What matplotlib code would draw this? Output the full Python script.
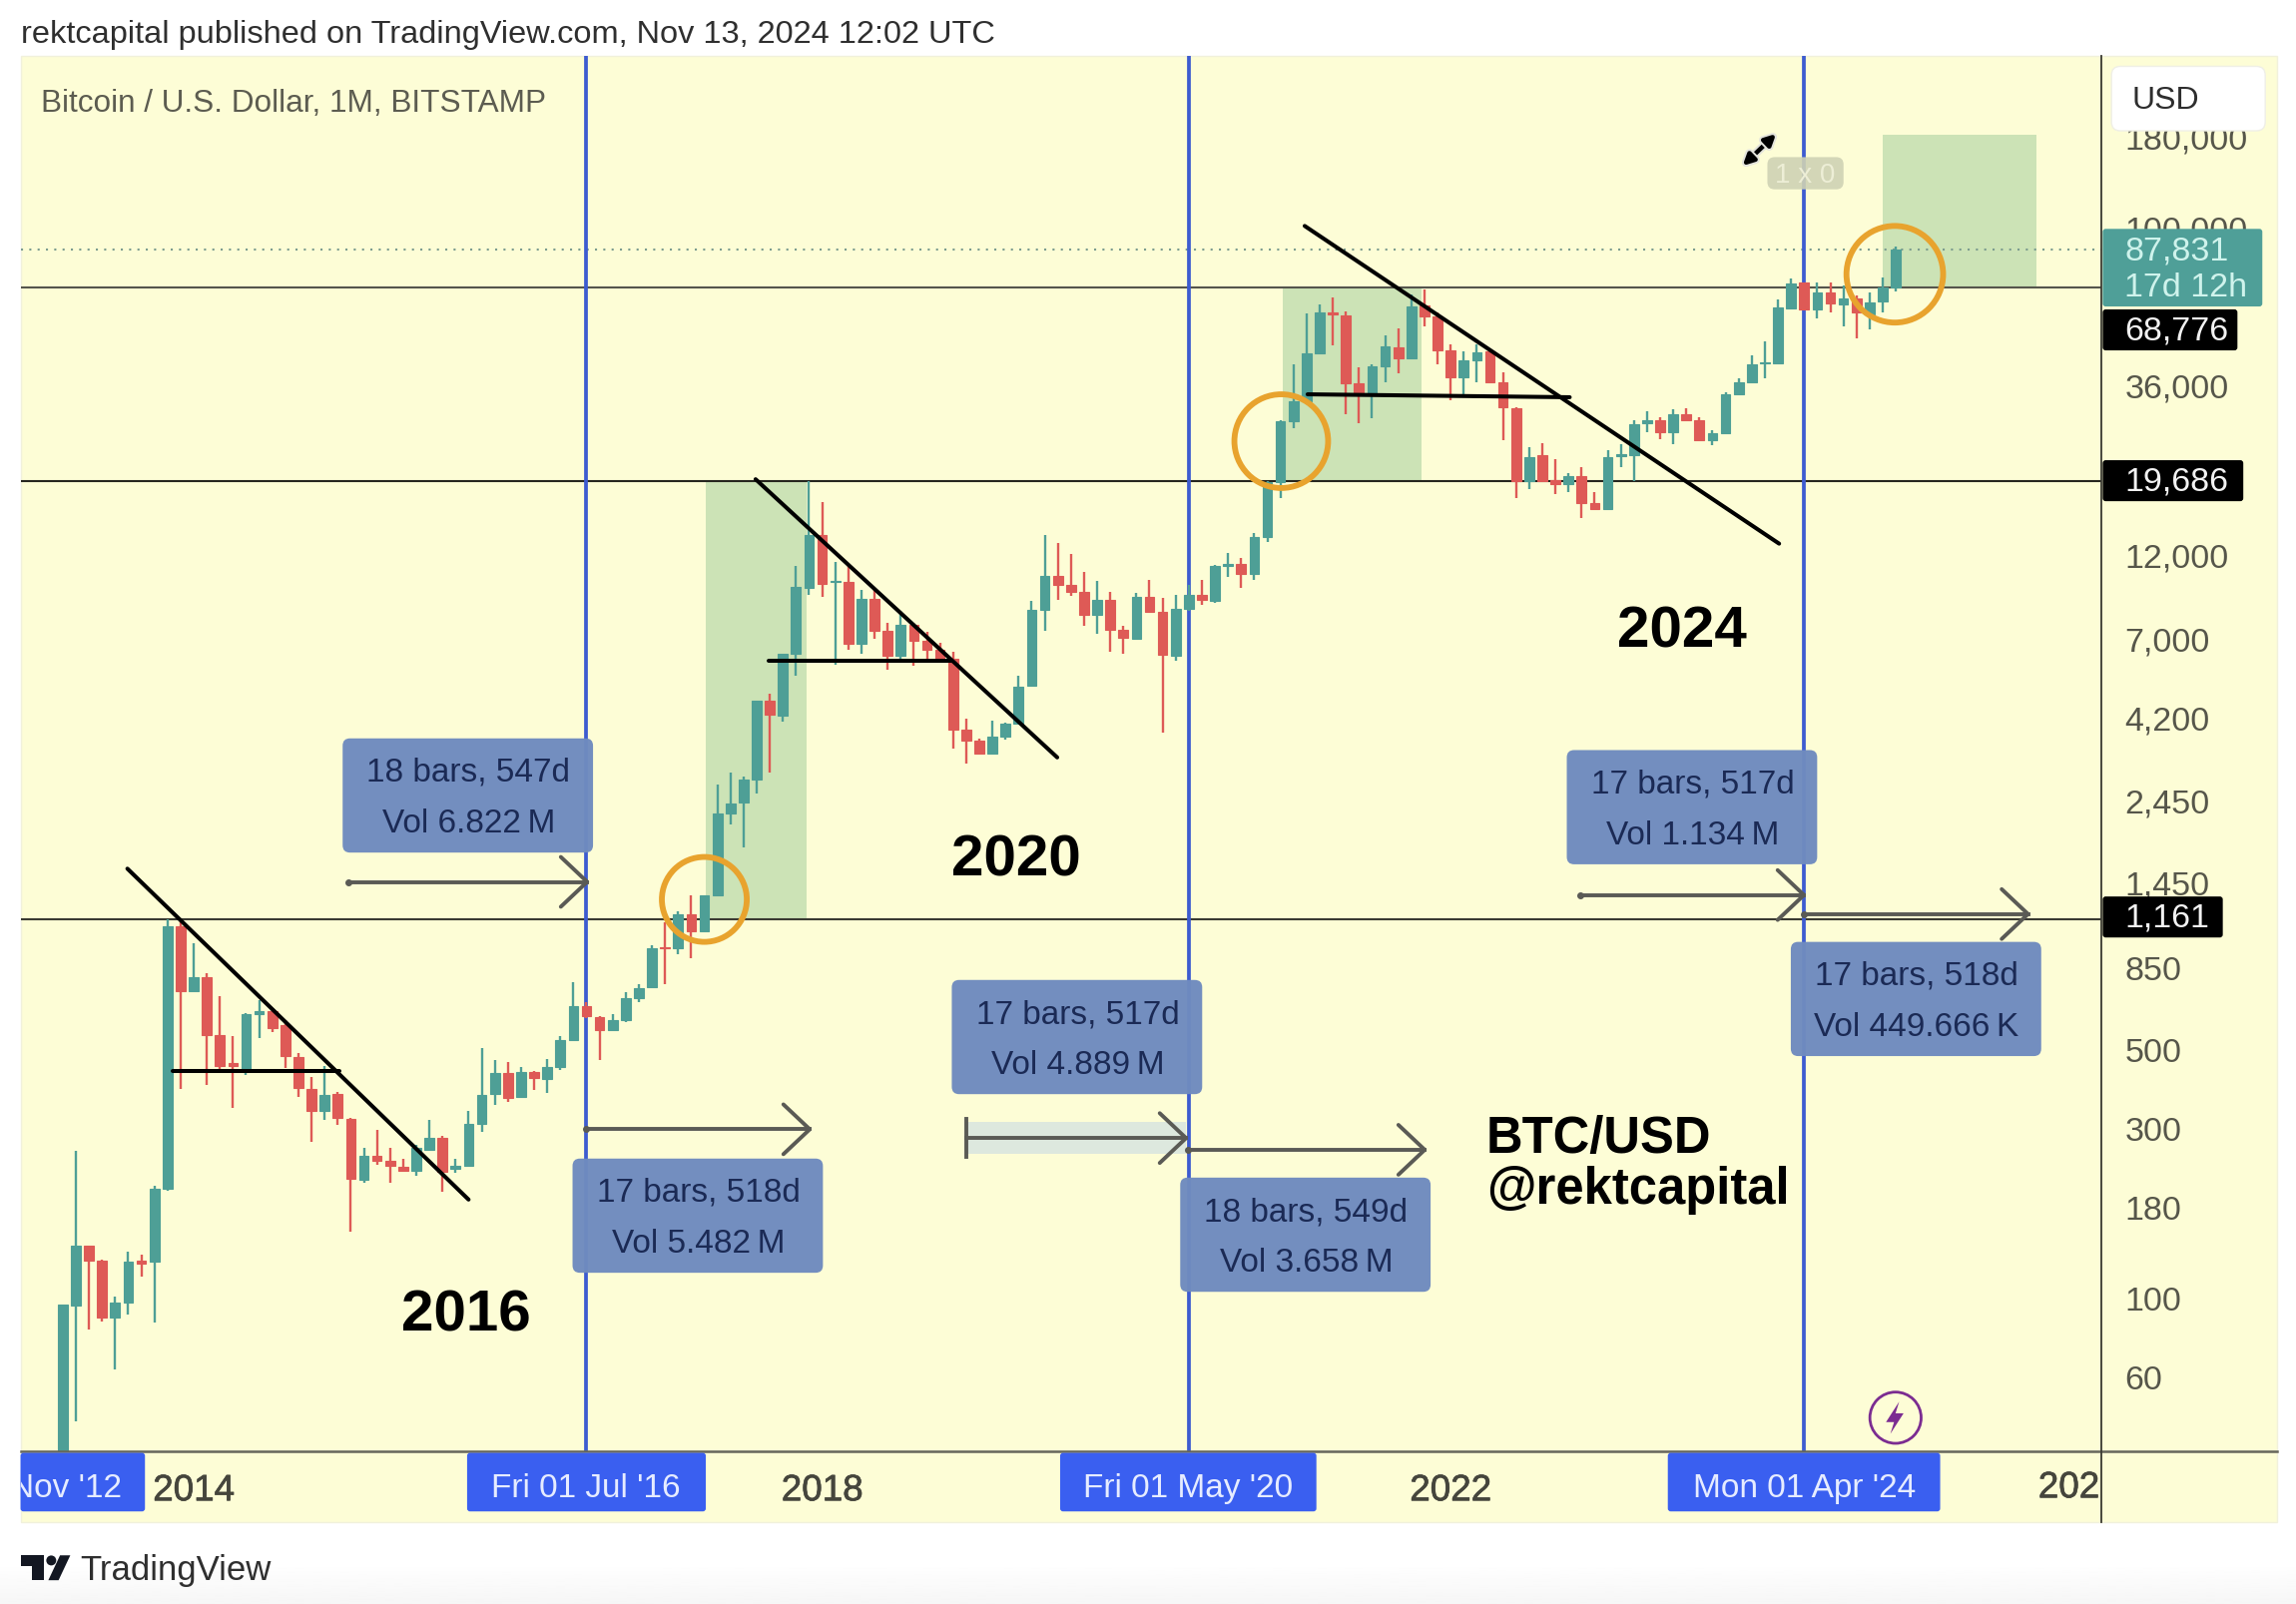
import matplotlib
matplotlib.use('Agg')
import matplotlib.pyplot as plt
import matplotlib.patheffects as pe
import numpy as np
from matplotlib.patches import Circle, FancyBboxPatch, Polygon, Rectangle
from matplotlib.ticker import NullLocator
from matplotlib.transforms import Bbox, ScaledTranslation

plt.rcParams['font.family'] = ['Liberation Sans', 'DejaVu Sans']

# monthly candles, Mar 2013 .. Nov 2024, one line per year
opens = [34, 95, 140, 127, 88, 97, 127, 126, 203, 1109,
         726, 796, 549, 456, 438, 625, 638, 585, 474, 385, 336, 375,
         318, 214, 250, 243, 234, 227, 261, 282, 231, 235, 308, 375,
         427, 366, 432, 412, 445, 529, 662, 615, 565, 603, 695, 745,
         966, 959, 1194, 1072, 1349, 2301, 2466, 2851, 4753, 4315, 6427, 9886,
         13868, 10280, 10280, 6887, 9183, 7499, 6383, 7762, 6998, 6607, 6237, 3936,
         3673, 3388, 3784, 4093, 5248, 8551, 10666, 10069, 9594, 8279, 9120, 7534,
         7112, 9290, 8472, 6383, 8610, 9441, 9078, 11376, 11561, 10789, 13740, 19543,
         29040, 33113, 44978, 58614, 57677, 37154, 34514, 41495, 46881, 43451, 61376, 57016,
         46026, 38459, 43152, 45709, 37411, 31623, 19634, 23227, 19861, 19320, 20324, 17100,
         16444, 23174, 23227, 28708, 29242, 27102, 30409, 29242, 25704, 26792, 34514, 37411,
         42110, 42110, 60300, 70970, 59760, 66530, 61700, 64030, 57750, 63080, 69020]
highs = [96, 258, 140, 128, 101, 135, 132, 206, 1157, 1151,
         991, 819, 705, 544, 630, 685, 651, 603, 488, 418, 448, 380,
         320, 264, 297, 264, 245, 269, 317, 285, 246, 334, 502, 465,
         461, 445, 435, 469, 544, 769, 676, 619, 625, 724, 759, 977,
         1135, 1216, 1355, 1355, 2767, 2985, 2917, 4753, 4989, 6427, 11350, 19680,
         17180, 11695, 11482, 9727, 9817, 7852, 8511, 7852, 7413, 6918, 6531, 4246,
         3715, 4188, 4121, 5598, 9078, 13868, 13183, 12303, 10965, 10351, 9594, 7727,
         9550, 10423, 9226, 9441, 10046, 10375, 11429, 12388, 11967, 14060, 19634, 29242,
         41976, 58345, 61660, 64565, 59156, 41020, 41976, 50466, 52845, 65766, 68077, 58614,
         47643, 45709, 47643, 46345, 39811, 31842, 24547, 25119, 22699, 20797, 21528, 18323,
         23988, 25003, 29242, 30974, 29717, 31333, 31623, 29717, 27416, 34914, 38282, 44433,
         48750, 63600, 73100, 71300, 71300, 71300, 69760, 65390, 66530, 73280, 89700]
lows = [30, 45, 81.5, 86, 63, 90, 115, 85, 200, 385,
        726, 397, 435, 342, 423, 537, 557, 443, 366, 274, 317, 306,
        153, 211, 236, 211, 226, 220, 258, 199, 224, 235, 293, 348,
        354, 364, 383, 377, 438, 527, 611, 465, 560, 597, 676, 745,
        759, 923, 902, 1072, 1349, 2138, 1841, 2618, 2985, 4150, 5598, 9441,
        9290, 5998, 6607, 6457, 7079, 5821, 6166, 5957, 6166, 6138, 3483, 3162,
        3373, 3373, 3698, 4074, 5224, 7499, 9162, 9376, 7727, 7328, 6531, 6427,
        7079, 8414, 3873, 6166, 8511, 8872, 8974, 10617, 9840, 10423, 13274, 17620,
        27733, 32584, 44668, 47424, 30409, 28708, 29512, 37411, 39628, 43251, 53456, 41976,
        33189, 34514, 37411, 37411, 25586, 17701, 18750, 19634, 18113, 18323, 15488, 16331,
        16444, 21528, 19634, 27102, 25882, 25003, 29040, 25586, 24889, 26669, 34356, 37300,
        38380, 41930, 59760, 59390, 56500, 58480, 53680, 49450, 52550, 58750, 67100]
closes = [96, 140, 127, 88, 97, 126, 125, 203, 1109, 726,
          796, 549, 449, 449, 625, 638, 574, 479, 389, 336, 372, 320,
          216, 250, 242, 235, 228, 264, 281, 226, 235, 309, 372, 427,
          364, 430, 414, 445, 529, 662, 619, 564, 603, 695, 741, 959,
          959, 1194, 1072, 1349, 2301, 2455, 2864, 4753, 4335, 6427, 9954, 13868,
          10116, 10351, 6887, 9183, 7499, 6383, 7762, 6998, 6607, 6237, 3936, 3673,
          3388, 3784, 4093, 5224, 8551, 10666, 10069, 9594, 8279, 9120, 7534, 7161,
          9290, 8472, 6412, 8610, 9441, 9120, 11350, 11561, 10789, 13740, 19543, 29040,
          33113, 44978, 58614, 57943, 37154, 34514, 41495, 47098, 43451, 61094, 57016, 46026,
          38459, 43152, 45186, 37411, 31842, 19634, 23067, 19634, 19320, 20324, 17100, 16406,
          22961, 23442, 28379, 29242, 27102, 30409, 29242, 25704, 26915, 34514, 37411, 41840,
          42560, 60400, 70800, 59760, 66530, 61970, 64030, 58480, 62660, 69020, 87831]

first_month = -40  # Mar 2013, counted in months from Jul 2016
level_prices = [1161, 19686, 68776]
level_colors = ['#3A3A32', '#26261F', '#55554C']
last_price = 87831
halving_months = [0, 46, 93]  # Jul 2016, May 2020, Apr 2024

price_ticks = [60, 100, 180, 300, 500, 850, 1450, 2450, 4200, 7000, 12000, 36000, 100000, 180000]
price_labels = ['60', '100', '180', '300', '500', '850', '1,450', '2,450', '4,200', '7,000',
                '12,000', '36,000', '100,000', '180,000']
year_ticks = [-30, 18, 66]
year_labels = ['2014', '2018', '2022']

callouts = [(234, 505, '18 bars, 547d', 'Vol 6.822\u2009M'),
            (391, 792, '17 bars, 518d', 'Vol 5.482\u2009M'),
            (650, 670, '17 bars, 517d', 'Vol 4.889\u2009M'),
            (806, 805, '18 bars, 549d', 'Vol 3.658\u2009M'),
            (1070, 513, '17 bars, 517d', 'Vol 1.134\u2009M'),
            (1223, 644, '17 bars, 518d', 'Vol 449.666\u2009K')]
spans = [(238, 401, 603), (400, 553, 772), (660, 810, 778),
         (811, 973, 786), (1079, 1232, 612), (1232, 1385, 625)]
trendlines = [((87, 594), (320, 820)), ((118, 732), (232, 732)),
              ((516, 328), (722, 518)), ((525, 452), (650, 452)),
              ((891, 155), (1215, 372)), ((893, 270), (1072, 272))]
green_boxes = [(482, 329, 69, 300), (876, 197, 95, 132), (1286, 93, 105, 104)]
rings = [(481, 615, 29), (875, 302, 32), (1294, 188, 33)]
time_tags = [(14, 85, "Nov '12", 45), (319, 163, "Fri 01 Jul '16", 400),
             (724, 175, "Fri 01 May '20", 811), (1139, 186, "Mon 01 Apr '24", 1232)]
price_tags = [(212, 92, '68,776'), (315, 96, '19,686'), (613, 82, '1,161')]

PANEL = '#FDFDD6'
TEAL = '#4E9F96'
RED = '#DE5A56'
BLUE = '#3D5BD0'
TAG_BLUE = '#3A5FF0'
GREY = '#56564A'
W, H = 2300, 1608
S = W / 1568  # annotation coordinates are given on a 1568 wide grid

fig = plt.figure(figsize=(W / 100, H / 100), dpi=100, facecolor='white')

bg = fig.add_axes([0, 0, 1, 1], zorder=0)
bg.imshow(np.linspace(1, 0.965, 30)[:, None], cmap='gray', vmin=0, vmax=1, aspect='auto',
          extent=(0, W / S, H / S, 1068))
bg.set_xlim(0, W / S)
bg.set_ylim(H / S, 0)
bg.axis('off')
bg.add_patch(Rectangle((14, 39), 1541, 1001, fc=PANEL, ec='#F1F1DC', lw=1))

ax = fig.add_axes([20.5 / W, 1 - 1455 / H, (2105 - 20.5) / W, (1455 - 57) / H], zorder=1)
ax.patch.set_alpha(0)

ov = fig.add_axes([0, 0, 1, 1], zorder=2)
ov.set_xlim(0, W / S)
ov.set_ylim(H / S, 0)
ov.axis('off')

# green target boxes go under the candles
for x, y, w, h in green_boxes:
    ax.add_patch(Rectangle((x, y), w, h, fc='#CCE3B6', ec='none', transform=ov.transData,
                           clip_on=False, zorder=0.5))

for level, color in zip(level_prices, level_colors):
    ax.axhline(level, color=color, lw=1.5, zorder=1)
ax.axhline(last_price, color='#7C9C8F', lw=1.5, ls=(0, (1, 3)), zorder=1)
for m in halving_months:
    ax.axvline(m, color=BLUE, lw=2.7, zorder=1.5)

opens_a, closes_a = np.array(opens, float), np.array(closes, float)
months = first_month + np.arange(len(opens))
colors = [TEAL if c >= o else RED for o, c in zip(opens_a, closes_a)]
ax.vlines(months, lows, highs, colors=colors, lw=1.7, zorder=2)
ax.bar(months, np.abs(closes_a - opens_a), bottom=np.minimum(opens_a, closes_a), width=0.74,
       color=colors, edgecolor=colors, lw=0.8, zorder=3)

ax.set_yscale('log')
ax.set_xlim(-43.23, 115.7)
ax.set_ylim(37.07, 308200)
ax.yaxis.tick_right()
ax.set_yticks(price_ticks)
ax.set_yticklabels(price_labels)
ax.yaxis.set_minor_locator(NullLocator())
ax.set_xticks(year_ticks)
ax.set_xticklabels(year_labels)
ax.tick_params(axis='y', length=0, pad=17, labelsize=24.5, labelcolor=GREY)
ax.tick_params(axis='x', length=0, pad=16, labelsize=26.5, labelcolor='#45453C')
year_stroke = [pe.withStroke(linewidth=0.5, foreground='#45453C')]
for lbl in ax.get_xticklabels():
    lbl.set_path_effects(year_stroke)
# labels with a comma get centred too low on their tick by the baseline alignment
for lbl in ax.get_yticklabels():
    if ',' in lbl.get_text():
        lbl.set_transform(lbl.get_transform() + ScaledTranslation(0, 3 / 100, fig.dpi_scale_trans))
for spine in ax.spines.values():
    spine.set_visible(False)

# axis frame
ov.plot([14, 1555], [992, 992], color='#66665C', lw=1.8)
ov.plot([1435, 1435], [39, 1040], color='#3A3A32', lw=1.3)
ov.text(1392, 1017, '202', fontsize=26.5, color='#45453C', ha='left', va='center',
        path_effects=year_stroke)

for start, end in trendlines:
    ov.plot([start[0], end[0]], [start[1], end[1]], color='black', lw=2.9, solid_capstyle='round')

for x, y, r in rings:
    ov.add_patch(Circle((x, y), r, fc='none', ec='#E8A32E', lw=4.2))

# pale band behind the third measure arrow
ov.add_patch(Rectangle((660, 767), 150, 22, fc='#DDE8DE', ec='none', zorder=1))
for x0, x1, y in spans:
    ov.plot([x0, x1], [y, y], color='#5A5A55', lw=2.8, zorder=2)
    ov.plot([x1 - 18, x1, x1 - 18], [y - 17, y, y + 17], color='#5A5A55', lw=2.8, zorder=2,
            solid_capstyle='round')
    if x0 == 660:
        ov.plot([x0, x0], [y - 13, y + 13], color='#5A5A55', lw=2.8, zorder=2)
    else:
        ov.plot([x0], [y], 'o', color='#5A5A55', ms=4, zorder=2)

for x, y, line1, line2 in callouts:
    ov.add_patch(FancyBboxPatch((x, y), 171, 78, boxstyle='round,pad=0,rounding_size=5',
                                fc='#6F8BBF', ec='none', alpha=0.97, zorder=3))
    ov.text(x + 86, y + 23, line1, fontsize=24, color='#1B2A55', ha='center', va='center', zorder=4)
    ov.text(x + 86, y + 58, line2, fontsize=24, color='#1B2A55', ha='center', va='center', zorder=4)

for x, y, label in [(318, 899, '2016'), (694, 588, '2020'), (1149, 432, '2024')]:
    ov.text(x, y, label, fontsize=42, fontweight='bold', color='black', ha='center', va='center')
ov.text(1015, 778, 'BTC/USD', fontsize=36.5, fontweight='bold', color='black', va='center')
ov.text(1015, 813, '@rektcapital', fontsize=36.5, fontweight='bold', color='black', va='center')

# date tags on the time axis
clip = Bbox([[20.5, 0], [W, H]])
for x, w, label, cx in time_tags:
    ov.add_patch(FancyBboxPatch((x, 993), w, 40, boxstyle='round,pad=0,rounding_size=2',
                                fc=TAG_BLUE, ec='none', zorder=3))
    txt = ov.text(cx, 1017, label, fontsize=24, color='#E6ECFF', ha='center', va='center', zorder=4)
    txt.set_clip_box(clip)
    txt.set_clip_on(True)

# price tags on the right
ov.add_patch(FancyBboxPatch((1436, 157), 109, 53, boxstyle='round,pad=0,rounding_size=2',
                            fc='#4F9F98', ec='none', zorder=3))
ov.text(1451, 172, '87,831', fontsize=24.5, color='#CFF3EC', va='center', zorder=4)
ov.text(1451, 197, '17d 12h', fontsize=24.5, color='#CFF3EC', va='center', zorder=4)
for y, w, label in price_tags:
    ov.add_patch(FancyBboxPatch((1436, y), w, 28, boxstyle='round,pad=0,rounding_size=2',
                                fc='black', ec='none', zorder=3))
    ov.text(1451, y + 14, label, fontsize=24.5, color='#F2F2F2', va='center', zorder=4)

ov.add_patch(FancyBboxPatch((1442, 46), 105, 44, boxstyle='round,pad=0,rounding_size=6',
                            fc='white', ec='#EFEFE6', lw=1, zorder=3))
ov.text(1479, 69, 'USD', fontsize=23, color='#2E2E2E', ha='center', va='center', zorder=4)

# lightning badge
ov.add_patch(Circle((1294.5, 969), 17.5, fc=PANEL, ec='#7B2C91', lw=2))
ov.add_patch(Polygon([(1297, 958), (1288, 972), (1293.5, 972), (1291, 980), (1300, 966), (1294.5, 966)],
                     closed=True, fc='#7B2C91', ec='none'))

# mouse cursor and its size hint
ov.add_patch(FancyBboxPatch((1207, 108), 52, 22, boxstyle='round,pad=0,rounding_size=5',
                            fc='#CFD2B4', ec='none', alpha=0.9))
ov.text(1233, 120, '1 x 0', fontsize=20, color='#EDEED6', ha='center', va='center')
ov.annotate('', xy=(1190, 114), xytext=(1213, 92),
            arrowprops=dict(arrowstyle='<|-|>', color='black', lw=3.2, mutation_scale=16,
                            shrinkA=0, shrinkB=0,
                            path_effects=[pe.withStroke(linewidth=6, foreground='#E4E4DC')]))

ov.text(14, 24, 'rektcapital published on TradingView.com, Nov 13, 2024 12:02 UTC',
        fontsize=23.4, color='#2F2F2F', va='center')
ov.text(28, 71, 'Bitcoin / U.S. Dollar, 1M, BITSTAMP', fontsize=22.7, color='#5C5C50', va='center')

# TradingView mark
ov.add_patch(Polygon([(14, 1063), (30, 1063), (30, 1080), (22, 1080), (22, 1070), (14, 1070)],
                     closed=True, fc='#131722', ec='none'))
ov.add_patch(Circle((35, 1066.5), 3.4, fc='#131722', ec='none'))
ov.add_patch(Polygon([(33, 1080), (41, 1063), (48, 1063), (40, 1080)], closed=True, fc='#131722', ec='none'))
ov.text(55, 1073, 'TradingView', fontsize=25, color='#2F2F2F', va='center')

fig.savefig('out.png', dpi=100)
plt.close(fig)
